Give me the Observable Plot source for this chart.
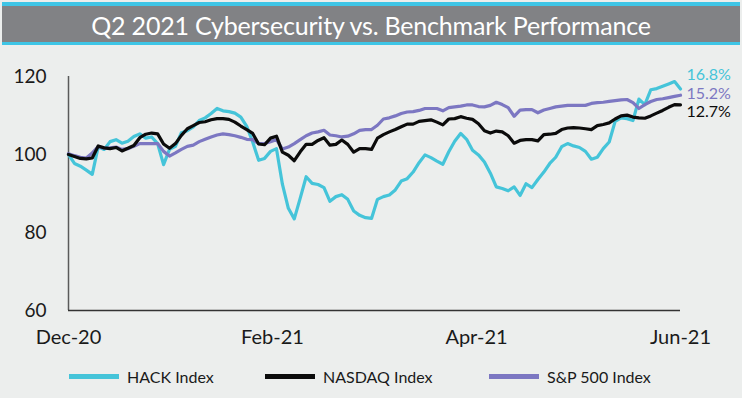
<!DOCTYPE html>
<html>
<head>
<meta charset="utf-8">
<script src="https://cdn.jsdelivr.net/npm/d3@7"></script>
<script src="https://cdn.jsdelivr.net/npm/@observablehq/plot@0.6"></script>
<style>
html,body{margin:0;padding:0;background:#eceeed;}
body{width:742px;height:398px;overflow:hidden;position:relative;font-family:Lato,"Open Sans",sans-serif;}
#banner{position:absolute;left:2px;top:2px;width:738px;height:43px;box-sizing:border-box;border-top:4px solid #3ec5e6;border-bottom:3px solid #3ec5e6;background:#818285;color:#fff;font-size:25px;text-align:center;line-height:38px;letter-spacing:-0.2px;}
#chart{position:absolute;left:0;top:48px;}
#legend{position:absolute;left:0;top:361px;width:742px;height:30px;}
.item{position:absolute;top:0;height:30px;display:flex;align-items:center;font-size:16px;color:#1a1a1a;white-space:nowrap;}
.sw{width:50px;height:5px;margin-right:8px;}
</style>
</head>
<body>
<div id="banner">Q2 2021 Cybersecurity vs. Benchmark Performance</div>
<div id="chart"></div>
<div id="legend"></div>
<script>
const titleText = "Q2 2021 Cybersecurity vs. Benchmark Performance";
const seriesNames = ["HACK Index", "NASDAQ Index", "S&P 500 Index"];
const xTickLabels = ["Dec-20", "Feb-21", "Apr-21", "Jun-21"];
const yTicks = [60, 80, 100, 120];
const endLabels = ["16.8%", "12.7%", "15.2%"];

const hackValues = [
100,97.7,97.0,96.0,94.9,102,101.3,103.3,103.8,102.9,
103.4,104.6,105.3,104.2,104.5,102.8,97.4,101.3,102.1,105.6,
106.1,107.1,108.7,109.4,110.5,111.8,111.2,111,110.6,109.6,
107.2,103.2,98.5,99.0,100.8,101.5,92.4,86.2,83.5,88.8,
94.3,92.6,92.3,91.5,88,89.2,89.7,88.5,85.5,84.4,
83.8,83.6,88.5,89.2,89.6,90.9,93.2,93.8,95.5,97.9,
99.9,99.2,98.3,97.5,100.7,103.4,105.4,103.9,101.1,99.9,
98.1,95.2,91.7,91.3,90.7,91.7,89.5,92.5,91.5,93.6,
95.5,97.7,99.3,102,102.8,102.2,101.8,100.8,98.8,99.3,
101.5,103.2,108.5,109.4,109.2,108.7,114.2,112.8,116.6,116.9,
117.5,118.1,118.7,116.8];

const nasdaqValues = [
100,99.5,99.0,98.9,99.1,102.2,101.7,101.5,101.8,100.9,
101.6,102.3,104.3,105.2,105.5,105.3,102.7,101.6,102.8,104.9,
106.6,107.4,108.2,108.4,108.9,109.2,109.2,109,108.3,107.3,
106.4,105.4,102.7,102.5,104.2,104.7,100.6,99.8,98.4,100.7,
102.6,102.6,103.6,104.3,102.4,102.6,103.7,102.6,100.6,101.5,
101.5,101.3,104.2,105.1,105.8,106.4,107.1,107.8,107.8,108.5,
108.7,108.9,108.3,107.6,109.1,109.2,109.7,109.3,109,107.9,
106.1,105.5,106.0,105.8,104.8,102.9,103.6,103.8,103.8,103.5,
105.1,105.2,105.4,106.4,106.8,106.9,106.8,106.6,106.4,107.4,
107.7,108.1,109.1,109.9,110.1,109.6,109.4,109.3,109.9,110.6,
111.3,112.1,112.8,112.7];

const spValues = [
100.2,99.7,99.3,99.1,100.4,102,101.6,101.7,101.9,101.3,
101.5,102.1,102.8,102.8,102.8,102.8,100.8,99.6,100.4,101.3,
102.1,102.4,103.3,103.9,104.5,105.0,105.3,105.1,104.8,104.4,
103.9,103.8,102.8,102.8,103.3,103.8,101.4,101.9,102.8,103.8,
104.8,105.5,105.8,106.2,105.0,104.8,104.5,104.7,105.3,106.2,
106.4,106.4,107.5,109.1,109.4,109.9,110.5,110.9,111,111.3,
111.8,111.8,111.8,111.2,112.0,112.2,112.4,112.7,112.7,112.3,
112.2,112.6,113.4,112.8,112.0,109.8,111.4,111.5,111.5,110.7,
111.4,111.8,112.2,112.4,112.6,112.6,112.6,112.6,113.1,113.3,
113.4,113.6,113.8,114.0,114.1,113.3,111.8,112.8,113.6,114.1,
114.3,114.6,114.9,115.2];

const styles = [
  {color:"#45c4d9", dy:-14.5},
  {color:"#0b0b0b", dy:6.5},
  {color:"#7c77c2", dy:-1.7}
];
const allValues = [hackValues, nasdaqValues, spValues];
const n = hackValues.length;
const tickPos = xTickLabels.map((_, k) => k * (n - 1) / (xTickLabels.length - 1));

const series = seriesNames.map((name, s) => ({
  name, values: allValues[s], label: endLabels[s], ...styles[s]
}));
const rows = series.flatMap(s => s.values.map((v, i) => ({day: i, value: v, name: s.name})));

const drawOrder = [0, 2, 1];
const marks = [
  Plot.ruleX([0], {y1: 60, y2: 120, stroke: "#5a5a5a", strokeWidth: 1.5}),
  Plot.ruleY([60], {x1: 0, x2: n - 1, stroke: "#333", strokeWidth: 1.5}),
  Plot.axisX({ticks: tickPos, tickFormat: d => xTickLabels[tickPos.indexOf(d)], tickSize: 0, tickPadding: 19, fontSize: 20, fill: "#1a1a1a"}),
  Plot.axisY({ticks: yTicks, tickSize: 0, tickPadding: 22, fontSize: 19, fill: "#1a1a1a"})
];
drawOrder.forEach(s => {
  const S = series[s];
  marks.push(Plot.line(rows.filter(r => r.name === S.name), {x: "day", y: "value", stroke: S.color, strokeWidth: 3.2, strokeLinejoin: "round", strokeLinecap: "round"}));
});
series.forEach(S => {
  marks.push(Plot.text([{day: n - 1, value: S.values[n - 1], t: S.label}], {x: "day", y: "value", text: "t", dx: 6, dy: S.dy, textAnchor: "start", fill: S.color, fontSize: 16}));
});

const chart = Plot.plot({
  width: 742, height: 313,
  marginLeft: 68, marginRight: 62, marginTop: 28, marginBottom: 51,
  style: {background: "transparent", fontFamily: "Lato, 'Open Sans', sans-serif", color: "#1a1a1a", overflow: "visible"},
  x: {domain: [0, n - 1], label: null},
  y: {domain: [60, 120], label: null},
  marks
});
document.getElementById("chart").appendChild(chart);
document.getElementById("banner").textContent = titleText;

const legendLeft = [69, 265, 489];
const legend = document.getElementById("legend");
series.forEach((S, i) => {
  const it = document.createElement("div");
  it.className = "item";
  it.style.left = legendLeft[i] + "px";
  const sw = document.createElement("span");
  sw.className = "sw";
  sw.style.background = S.color;
  it.appendChild(sw);
  it.appendChild(document.createTextNode(S.name));
  legend.appendChild(it);
});
</script>
</body>
</html>
